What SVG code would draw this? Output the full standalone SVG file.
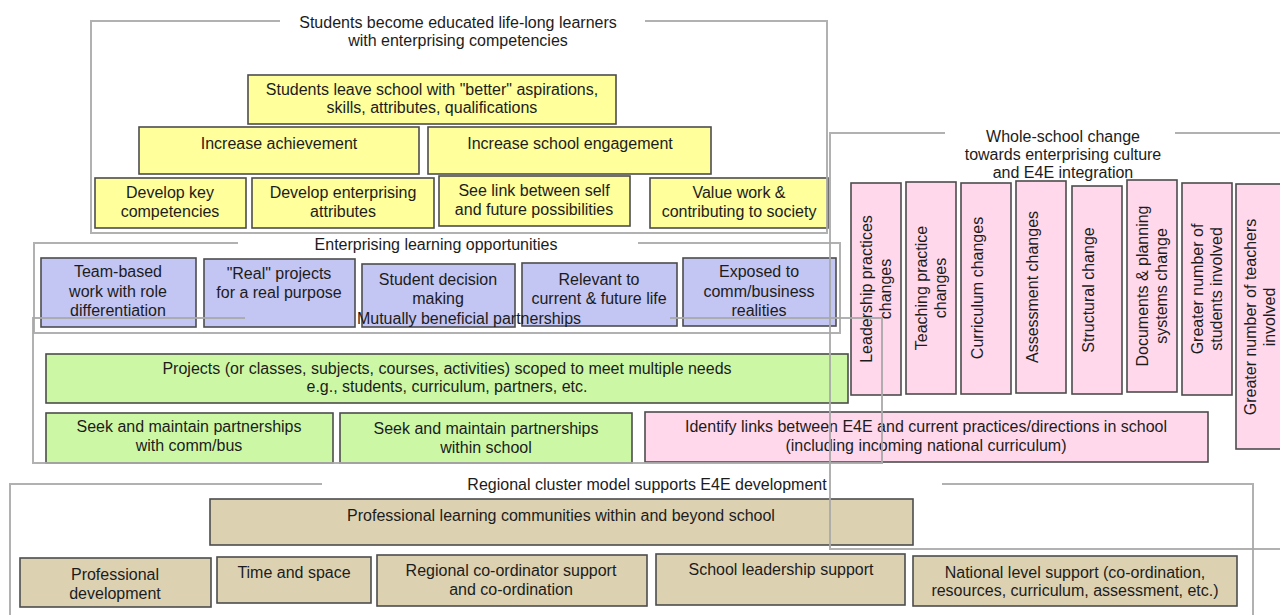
<svg xmlns="http://www.w3.org/2000/svg" width="1280" height="615" viewBox="0 0 1280 615">
  <style>
    text { font-family: "Liberation Sans", Arial, sans-serif; font-size: 16px; fill: #1c1c1c; text-anchor: middle; }
    .box { stroke: #4d4d4d; stroke-width: 1.6; }
    .yellow { fill: #ffff9c; }
    .blue { fill: #c3c5f3; }
    .green { fill: #ccf8a6; }
    .pink { fill: #ffd8ec; }
    .tan { fill: #dcd2b2; }
    .frame { fill: none; stroke: #a9a9a9; stroke-width: 2; opacity: 0.9; }
  </style>
  <rect width="1280" height="615" fill="#ffffff"/>

  <!-- Outcomes: yellow pyramid -->
  <g id="leave-school">
    <rect class="box yellow" x="248" y="75" width="368" height="49"/>
    <text x="432" y="95">Students leave school with "better" aspirations,</text>
    <text x="432" y="113">skills, attributes, qualifications</text>
  </g>
  <g id="increase-achievement">
    <rect class="box yellow" x="139" y="127" width="280" height="47"/>
    <text x="279" y="149">Increase achievement</text>
  </g>
  <g id="increase-engagement">
    <rect class="box yellow" x="428" y="127" width="283" height="47"/>
    <text x="570" y="149">Increase school engagement</text>
  </g>
  <g id="key-competencies">
    <rect class="box yellow" x="95" y="178" width="151" height="50"/>
    <text x="170" y="198">Develop key</text>
    <text x="170" y="217">competencies</text>
  </g>
  <g id="enterprising-attributes">
    <rect class="box yellow" x="252" y="178" width="182" height="50"/>
    <text x="343" y="198">Develop enterprising</text>
    <text x="343" y="217">attributes</text>
  </g>
  <g id="see-link">
    <rect class="box yellow" x="439" y="176" width="191" height="50"/>
    <text x="534" y="196">See link between self</text>
    <text x="534" y="215">and future possibilities</text>
  </g>
  <g id="value-work">
    <rect class="box yellow" x="650" y="178" width="178" height="50"/>
    <text x="739" y="198">Value work &amp;</text>
    <text x="739" y="217">contributing to society</text>
  </g>

  <!-- Enterprising learning opportunities -->
  <g id="team-based">
    <rect class="box blue" x="41" y="258" width="155" height="69"/>
    <text x="118" y="277">Team-based</text>
    <text x="118" y="297">work with role</text>
    <text x="118" y="316">differentiation</text>
  </g>
  <g id="real-projects">
    <rect class="box blue" x="204" y="259" width="151" height="68"/>
    <text x="279" y="279">"Real" projects</text>
    <text x="279" y="298">for a real purpose</text>
  </g>
  <g id="student-decision">
    <rect class="box blue" x="362" y="264" width="153" height="63"/>
    <text x="438" y="285">Student decision</text>
    <text x="438" y="304">making</text>
  </g>
  <g id="relevant">
    <rect class="box blue" x="522" y="263" width="155" height="63"/>
    <text x="599" y="285">Relevant to</text>
    <text x="599" y="304">current &amp; future life</text>
  </g>
  <g id="exposed">
    <rect class="box blue" x="683" y="258" width="153" height="68"/>
    <text x="759" y="277">Exposed to</text>
    <text x="759" y="297">comm/business</text>
    <text x="759" y="316">realities</text>
  </g>

  <!-- Mutually beneficial partnerships -->
  <g id="projects-scoped">
    <rect class="box green" x="46" y="354" width="802" height="49"/>
    <text x="447" y="374">Projects (or classes, subjects, courses, activities) scoped to meet multiple needs</text>
    <text x="447" y="392">e.g., students, curriculum, partners, etc.</text>
  </g>
  <g id="partnerships-comm">
    <rect class="box green" x="46" y="413" width="287" height="50"/>
    <text x="189" y="432">Seek and maintain partnerships</text>
    <text x="189" y="451">with comm/bus</text>
  </g>
  <g id="partnerships-school">
    <rect class="box green" x="340" y="413" width="292" height="50"/>
    <text x="486" y="434">Seek and maintain partnerships</text>
    <text x="486" y="453">within school</text>
  </g>
  <g id="identify-links">
    <rect class="box pink" x="645" y="412" width="563" height="50"/>
    <text x="926" y="432">Identify links between E4E and current practices/directions in school</text>
    <text x="926" y="451">(including incoming national curriculum)</text>
  </g>

  <!-- Whole-school change columns -->
  <g id="leadership-practices">
    <rect class="box pink" x="851" y="183" width="50" height="212"/>
    <g transform="translate(876,289) rotate(-90)"><text y="-4">Leadership practices</text><text y="15">changes</text></g>
  </g>
  <g id="teaching-practice">
    <rect class="box pink" x="906" y="182" width="50" height="212"/>
    <g transform="translate(931,288) rotate(-90)"><text y="-4">Teaching practice</text><text y="15">changes</text></g>
  </g>
  <g id="curriculum-changes">
    <rect class="box pink" x="961" y="183" width="50" height="211"/>
    <g transform="translate(986,288) rotate(-90)"><text y="-3">Curriculum changes</text></g>
  </g>
  <g id="assessment-changes">
    <rect class="box pink" x="1016" y="181" width="50" height="212"/>
    <g transform="translate(1041,287) rotate(-90)"><text y="-3">Assessment changes</text></g>
  </g>
  <g id="structural-change">
    <rect class="box pink" x="1072" y="186" width="50" height="208"/>
    <g transform="translate(1097,290) rotate(-90)"><text y="-3">Structural change</text></g>
  </g>
  <g id="documents-planning">
    <rect class="box pink" x="1127" y="180" width="50" height="212"/>
    <g transform="translate(1152,286) rotate(-90)"><text y="-4">Documents &amp; planning</text><text y="15">systems change</text></g>
  </g>
  <g id="more-students">
    <rect class="box pink" x="1182" y="183" width="50" height="212"/>
    <g transform="translate(1207,289) rotate(-90)"><text y="-4">Greater number of</text><text y="15">students involved</text></g>
  </g>
  <g id="more-teachers">
    <rect class="box pink" x="1236" y="184" width="50" height="265"/>
    <g transform="translate(1260,317) rotate(-90)"><text y="-4">Greater number of teachers</text><text y="15">involved</text></g>
  </g>

  <!-- Regional cluster supports -->
  <g id="learning-communities">
    <rect class="box tan" x="210" y="499" width="703" height="46"/>
    <text x="561" y="521">Professional learning communities within and beyond school</text>
  </g>
  <g id="professional-development">
    <rect class="box tan" x="20" y="558" width="191" height="49"/>
    <text x="115" y="580">Professional</text>
    <text x="115" y="599">development</text>
  </g>
  <g id="time-space">
    <rect class="box tan" x="217" y="557" width="154" height="46"/>
    <text x="294" y="578">Time and space</text>
  </g>
  <g id="regional-coordinator">
    <rect class="box tan" x="377" y="555" width="270" height="51"/>
    <text x="511" y="576">Regional co-ordinator support</text>
    <text x="511" y="595">and co-ordination</text>
  </g>
  <g id="leadership-support">
    <rect class="box tan" x="656" y="554" width="249" height="51"/>
    <text x="781" y="575">School leadership support</text>
  </g>
  <g id="national-support">
    <rect class="box tan" x="913" y="556" width="324" height="50" stroke-width="2.2"/>
    <text x="1075" y="578">National level support (co-ordination,</text>
    <text x="1075" y="596">resources, curriculum, assessment, etc.)</text>
  </g>

  <!-- Grouping frames with their titles, drawn over the boxes -->
  <g id="frames">
    <g id="frame-learners">
      <path class="frame" d="M280,21 H91 V233 H827 V21 H645"/>
      <text x="458" y="28">Students become educated life-long learners</text>
      <text x="458" y="46">with enterprising competencies</text>
    </g>
    <g id="frame-opportunities">
      <path class="frame" d="M238,243 H34 V333 H840 V243 H638"/>
      <text x="436" y="250">Enterprising learning opportunities</text>
    </g>
    <g id="frame-partnerships">
      <path class="frame" d="M245,318 H33 V463 H882 V318 H670"/>
      <text x="469" y="324">Mutually beneficial partnerships</text>
    </g>
    <g id="frame-whole-school">
      <path class="frame" d="M945,133 H830 V549 H1282"/>
      <path class="frame" d="M1175,133 H1282"/>
      <text x="1063" y="142">Whole-school change</text>
      <text x="1063" y="160">towards enterprising culture</text>
      <text x="1063" y="178">and E4E integration</text>
    </g>
    <g id="frame-regional">
      <path class="frame" d="M322,484 H10 V620"/>
      <path class="frame" d="M942,484 H1253 V620"/>
      <text x="647" y="490">Regional cluster model supports E4E development</text>
    </g>
  </g>
</svg>
